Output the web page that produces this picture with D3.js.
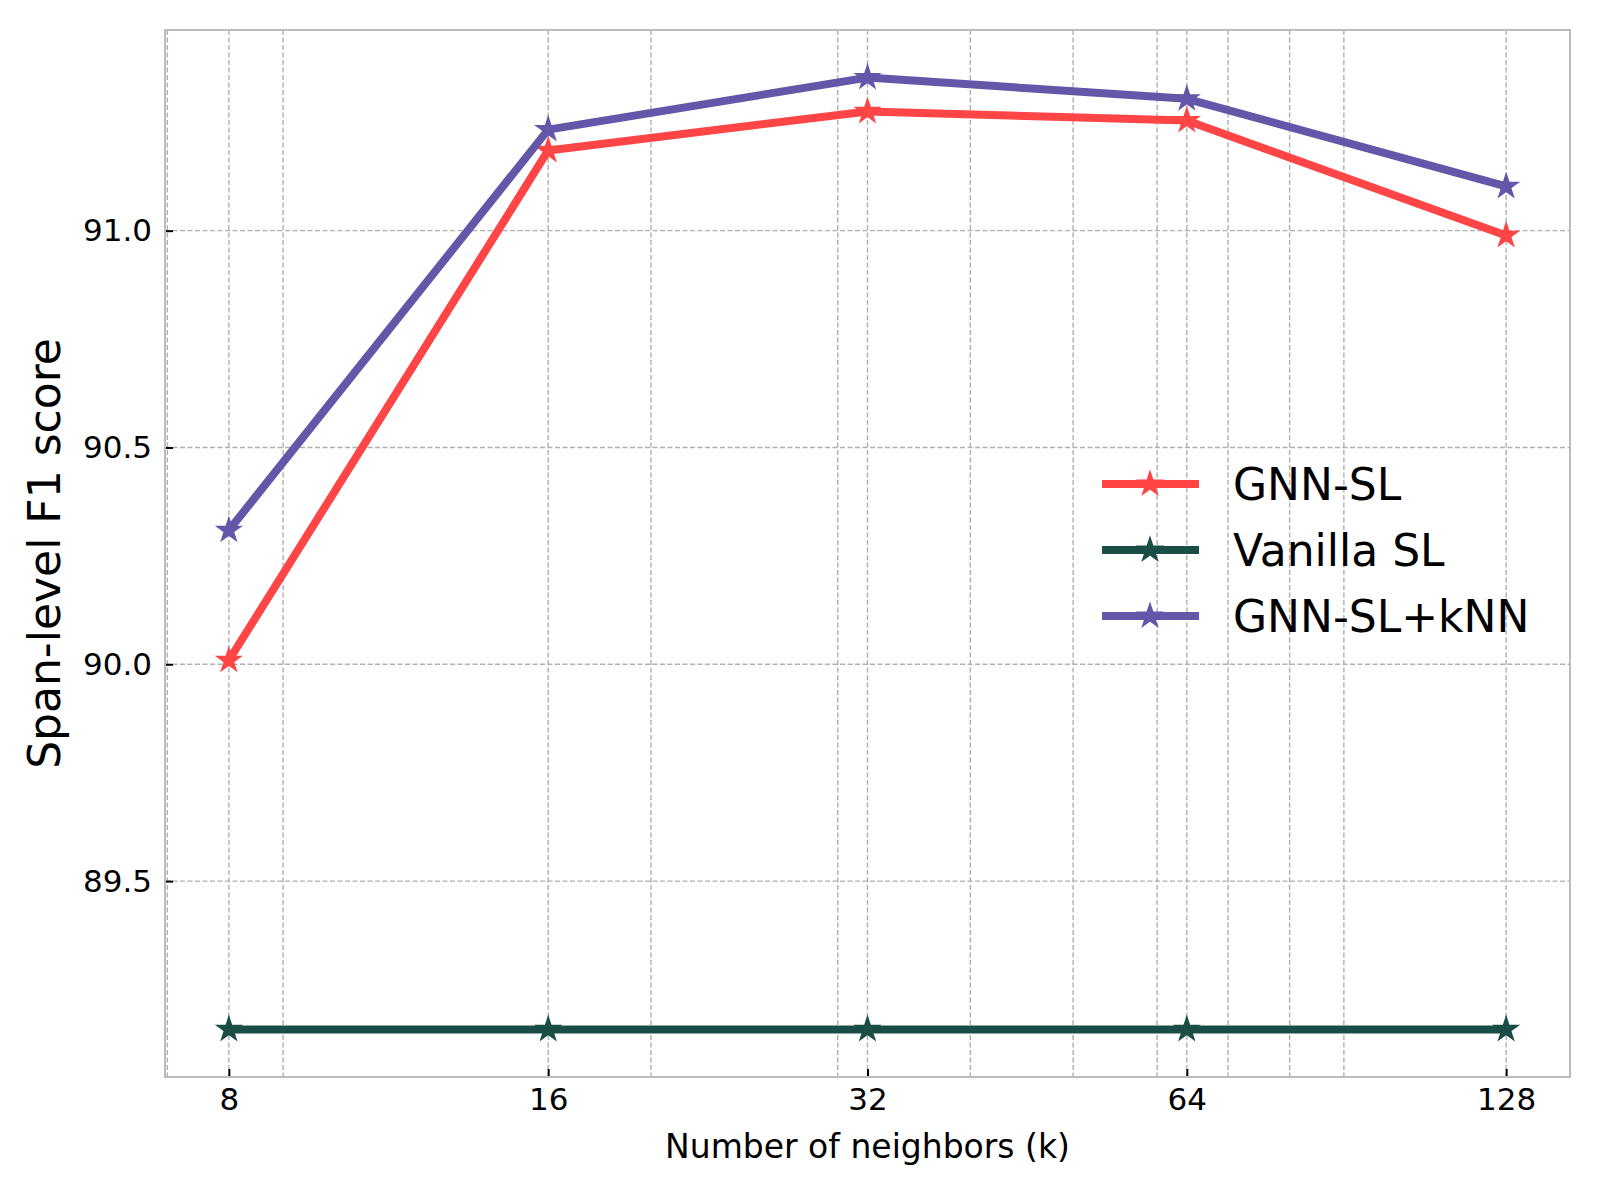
<!DOCTYPE html>
<html>
<head>
<meta charset="utf-8">
<script src="https://cdn.jsdelivr.net/npm/d3@7"></script>
<style>
  body { margin: 0; background: #fff; }
  text { font-family: "DejaVu Sans", sans-serif; }
</style>
</head>
<body>
<div id="chart-area"></div>
<script>
// data
const neighbors = [8, 16, 32, 64, 128]
const gnnSL = [90.009, 91.185, 91.275, 91.254, 90.989]
const vanillaSL = [89.158, 89.158, 89.158, 89.158, 89.158]
const gnnSLkNN = [90.309, 91.233, 91.353, 91.304, 91.102]
const seriesNames = ["GNN-SL", "Vanilla SL", "GNN-SL+kNN"]
const seriesColors = ["#ff4545", "#1a4d46", "#6257a8"]
const yTicks = [89.5, 90.0, 90.5, 91.0]
const xMinorTicks = [7, 9, 20, 30, 40, 50, 60, 70, 80, 90]

const width = 1600
const height = 1200
const plotLeft = 165, plotRight = 1570, plotTop = 30, plotBottom = 1077

const svg = d3.select("#chart-area").append("svg")
    .attr("width", width)
    .attr("height", height)

// log2 x axis with 5% padding in log space (like matplotlib)
const lx = neighbors.map(d => Math.log2(d))
const lpad = (d3.max(lx) - d3.min(lx)) * 0.05
const x = d3.scaleLog().base(2)
    .domain([2 ** (d3.min(lx) - lpad), 2 ** (d3.max(lx) + lpad)])
    .range([plotLeft, plotRight])

const allY = gnnSL.concat(vanillaSL, gnnSLkNN)
const ypad = (d3.max(allY) - d3.min(allY)) * 0.05
const y = d3.scaleLinear()
    .domain([d3.min(allY) - ypad, d3.max(allY) + ypad])
    .range([plotBottom, plotTop])

// grid
const grid = svg.append("g")
    .attr("stroke", "#b0b0b0")
    .attr("stroke-width", 1.4)
    .attr("stroke-dasharray", "5,2.5")

grid.selectAll(".vx")
    .data(neighbors.concat(xMinorTicks))
    .enter().append("line")
    .attr("x1", d => x(d)).attr("x2", d => x(d))
    .attr("y1", plotTop).attr("y2", plotBottom)

grid.selectAll(".hy")
    .data(yTicks)
    .enter().append("line")
    .attr("x1", plotLeft).attr("x2", plotRight)
    .attr("y1", d => y(d)).attr("y2", d => y(d))

// axes, ticks pointing inward
const xAxis = svg.append("g")
    .attr("transform", `translate(0,${plotBottom})`)
    .call(d3.axisBottom(x)
        .tickValues(neighbors)
        .tickFormat(d3.format("d"))
        .tickSizeInner(-8)
        .tickSizeOuter(0)
        .tickPadding(11))

const yAxis = svg.append("g")
    .attr("transform", `translate(${plotLeft},0)`)
    .call(d3.axisLeft(y)
        .tickValues(yTicks)
        .tickFormat(d3.format(".1f"))
        .tickSizeInner(-8)
        .tickSizeOuter(0)
        .tickPadding(13))

for (const ax of [xAxis, yAxis]) {
    ax.select(".domain").remove()
    ax.selectAll(".tick line").attr("stroke", "#000").attr("stroke-width", 2)
    ax.selectAll(".tick text")
        .attr("fill", "#000")
        .style("font-size", "31px")
        .style("font-family", "DejaVu Sans")
}

// lines + star markers
const seriesData = [gnnSL, vanillaSL, gnnSLkNN]
const line = d3.line()
    .x((d, i) => x(neighbors[i]))
    .y(d => y(d))
const star = d3.symbol().type(d3.symbolStar).size(150)

seriesData.forEach((vals, s) => {
    svg.append("path")
        .attr("d", line(vals))
        .attr("fill", "none")
        .attr("stroke", seriesColors[s])
        .attr("stroke-width", 8)
        .attr("stroke-linejoin", "round")

    svg.selectAll(".m" + s)
        .data(vals)
        .enter().append("path")
        .attr("d", star)
        .attr("transform", (d, i) => `translate(${x(neighbors[i])},${y(d)})`)
        .attr("fill", seriesColors[s])
        .attr("stroke", seriesColors[s])
        .attr("stroke-width", 2)
})

// frame
svg.append("rect")
    .attr("x", plotLeft).attr("y", plotTop)
    .attr("width", plotRight - plotLeft).attr("height", plotBottom - plotTop)
    .attr("fill", "none")
    .attr("stroke", "#bcbcbc")
    .attr("stroke-width", 2)

// axis labels
svg.append("text")
    .attr("x", (plotLeft + plotRight) / 2)
    .attr("y", 1158)
    .attr("text-anchor", "middle")
    .style("font-size", "33px")
    .text("Number of neighbors (k)")

svg.append("text")
    .attr("transform", `translate(44,${(plotTop + plotBottom) / 2}) rotate(-90)`)
    .attr("text-anchor", "middle")
    .attr("dy", "0.36em")
    .style("font-size", "44px")
    .text("Span-level F1 score")

// legend
const legend = svg.append("g")
seriesNames.forEach((name, s) => {
    const ly = 484 + s * 66
    legend.append("line")
        .attr("x1", 1102).attr("x2", 1199)
        .attr("y1", ly).attr("y2", ly)
        .attr("stroke", seriesColors[s])
        .attr("stroke-width", 8)
    legend.append("path")
        .attr("d", star)
        .attr("transform", `translate(1150,${ly})`)
        .attr("fill", seriesColors[s])
        .attr("stroke", seriesColors[s])
        .attr("stroke-width", 2)
    legend.append("text")
        .attr("x", 1233)
        .attr("y", ly)
        .attr("dy", "0.36em")
        .style("font-size", "44px")
        .text(name)
})
</script>
</body>
</html>
